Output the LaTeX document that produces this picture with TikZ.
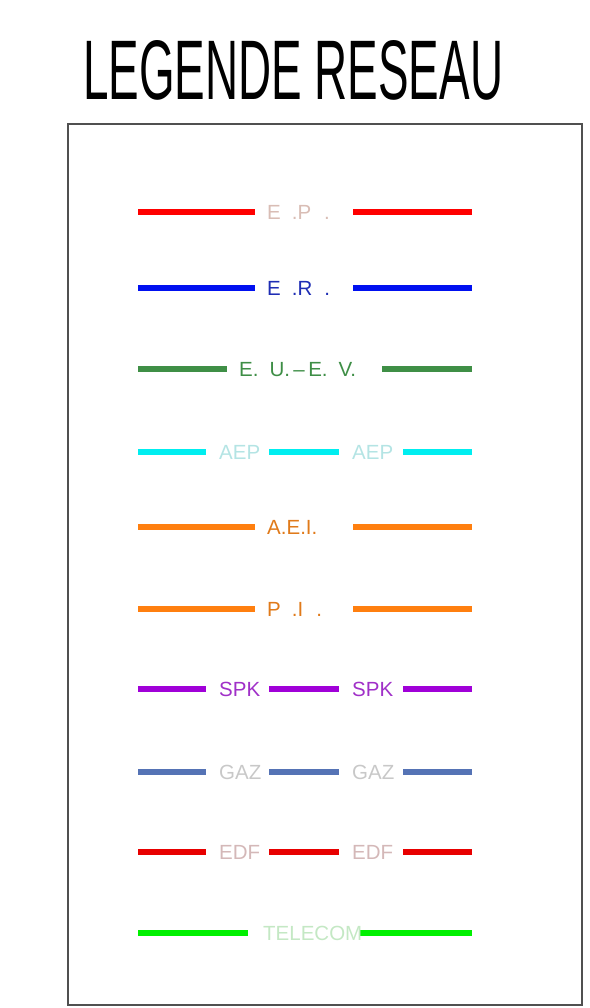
\documentclass[tikz,border=0pt]{standalone}
\usepackage{fontspec}
\setmainfont{Liberation Sans}
\usepackage{graphicx}
\definecolor{epline}{HTML}{FF0000}
\definecolor{eptext}{HTML}{D9BDB5}
\definecolor{erline}{HTML}{0010F0}
\definecolor{ertext}{HTML}{1E2DB4}
\definecolor{euevline}{HTML}{3F8F46}
\definecolor{euevtext}{HTML}{3E8E46}
\definecolor{aepline}{HTML}{00EEF0}
\definecolor{aeptext}{HTML}{B4E4E4}
\definecolor{aeiline}{HTML}{FF7F0F}
\definecolor{aeitext}{HTML}{E07A1A}
\definecolor{spkline}{HTML}{A000D8}
\definecolor{spktext}{HTML}{A030C8}
\definecolor{gazline}{HTML}{5573B5}
\definecolor{gaztext}{HTML}{C8C8C8}
\definecolor{edfline}{HTML}{E80000}
\definecolor{edftext}{HTML}{D4B8B8}
\definecolor{telline}{HTML}{00F000}
\definecolor{teltext}{HTML}{C4E8C4}
\definecolor{framegray}{HTML}{505050}
\tikzset{
  seg/.style={line width=6.8pt, line cap=butt},
  lbl/.style={anchor=base west, inner sep=0pt, font=\fontsize{20.5pt}{21pt}\selectfont},
  frame/.style={draw=framegray, line width=1.3pt}
}
\begin{document}
\begin{tikzpicture}[x=1pt,y=-1pt]
\useasboundingbox (0,0) rectangle (589,1008);
% title
\node[anchor=base west, inner sep=0pt] (title) at (83,100) {\resizebox{420pt}{59pt}{LEGENDE RESEAU}};
% frame
\draw[frame] (68,124) rectangle (582,1005);
% E.P.
\draw[seg, epline] (138,212) -- (255,212);
\draw[seg, epline] (353,212) -- (472,212);
\node[lbl, text=eptext] (ep) at (267,219.5) {E\hspace{11pt}.P\hspace{13pt}.};
% E.R.
\draw[seg, erline] (138,288) -- (255,288);
\draw[seg, erline] (353,288) -- (472,288);
\node[lbl, text=ertext] (er) at (267,295.5) {E\hspace{11pt}.R\hspace{12pt}.};
% E.U.-E.V.
\draw[seg, euevline] (138,369) -- (227,369);
\draw[seg, euevline] (382,369) -- (472,369);
\node[lbl, text=euevtext] (euev) at (239,376.5) {E.\hspace{11pt}U.\,--\,E.\hspace{11pt}V.};
% AEP
\draw[seg, aepline] (138,452) -- (206,452);
\draw[seg, aepline] (269,452) -- (339,452);
\draw[seg, aepline] (403,452) -- (472,452);
\node[lbl, text=aeptext] (aep1) at (219,459.5) {AEP};
\node[lbl, text=aeptext] (aep2) at (352,459.5) {AEP};
% A.E.I.
\draw[seg, aeiline] (138,527) -- (255,527);
\draw[seg, aeiline] (353,527) -- (472,527);
\node[lbl, text=aeitext] (aei) at (267,534.5) {A.E.I.};
% P.I.
\draw[seg, aeiline] (138,609) -- (255,609);
\draw[seg, aeiline] (353,609) -- (472,609);
\node[lbl, text=aeitext] (pi) at (267,616.5) {P\hspace{11pt}.I\hspace{13pt}.};
% SPK
\draw[seg, spkline] (138,689) -- (206,689);
\draw[seg, spkline] (269,689) -- (339,689);
\draw[seg, spkline] (403,689) -- (472,689);
\node[lbl, text=spktext] (spk1) at (219,696.5) {SPK};
\node[lbl, text=spktext] (spk2) at (352,696.5) {SPK};
% GAZ
\draw[seg, gazline] (138,772) -- (206,772);
\draw[seg, gazline] (269,772) -- (339,772);
\draw[seg, gazline] (403,772) -- (472,772);
\node[lbl, text=gaztext] (gaz1) at (219,779.5) {GAZ};
\node[lbl, text=gaztext] (gaz2) at (352,779.5) {GAZ};
% EDF
\draw[seg, edfline] (138,852) -- (206,852);
\draw[seg, edfline] (269,852) -- (339,852);
\draw[seg, edfline] (403,852) -- (472,852);
\node[lbl, text=edftext] (edf1) at (219,859.5) {EDF};
\node[lbl, text=edftext] (edf2) at (352,859.5) {EDF};
% TELECOM
\draw[seg, telline] (138,933) -- (248,933);
\draw[seg, telline] (360,933) -- (472,933);
\node[lbl, text=teltext] (tel) at (263,940.5) {TELECOM};
\end{tikzpicture}
\end{document}
